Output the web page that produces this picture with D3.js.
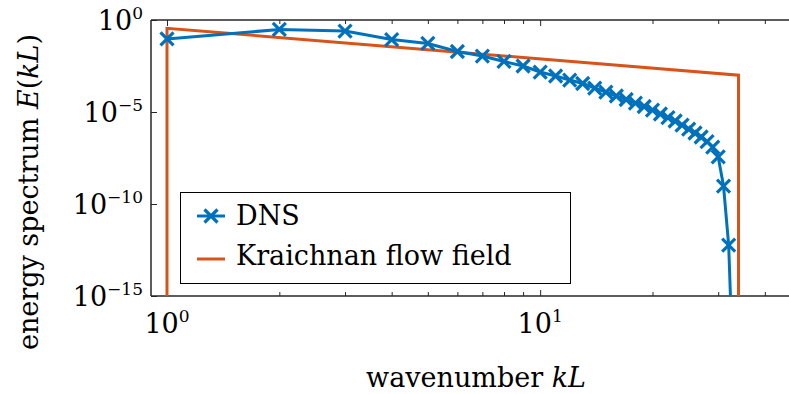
<!DOCTYPE html>
<html>
<head>
<meta charset="utf-8">
<script src="https://cdn.jsdelivr.net/npm/d3@7"></script>
<style>
  body { margin: 0; background: #fff; }
  text { font-family: "DejaVu Serif", "Liberation Serif", serif; fill: #000; }
</style>
</head>
<body>
<svg id="chart"></svg>
<script>
// DNS spectrum, integer wavenumbers 1..33 (last one drops far below the axis)
const dnsK = [1, 2, 3, 4, 5, 6, 7, 8, 9, 10, 11, 12, 13, 14, 15, 16, 17, 18, 19, 20,
              21, 22, 23, 24, 25, 26, 27, 28, 29, 30, 31, 32, 33];
const dnsE = [0.093, 0.305, 0.252, 0.087, 0.053, 0.0194, 0.0110, 0.00556, 0.00316, 0.00149,
              9.05e-4, 5.48e-4, 3.54e-4, 2.01e-4, 1.22e-4, 7.41e-5, 4.78e-5, 3.08e-5, 1.99e-5, 1.28e-5,
              7.78e-6, 5.02e-6, 3.24e-6, 1.96e-6, 1.19e-6, 7.22e-7, 4.38e-7, 2.49e-7, 1.25e-7, 3.6e-8,
              9.5e-10, 5.9e-13, 1e-20];

// Kraichnan flow field spectrum (band limited power law)
const kraichnanK = [1, 1, 34, 34];
const kraichnanE = [1e-20, 0.355, 1.0e-3, 1e-20];

const xTickValues = [1, 10];
const xTickExps = ["0", "1"];
const yTickValues = [1e-15, 1e-10, 1e-5, 1];
const yTickExps = ["\u221215", "\u221210", "\u22125", "0"];
const legendLabels = ["DNS", "Kraichnan flow field"];

const width = 789, height = 394;
const plot = {left: 151, top: 20, bottom: 296, right: 801};
const blue = "#0072BD", orange = "#D95319", axisColor = "#262626";

const svg = d3.select("#chart")
  .attr("width", width)
  .attr("height", height);

const x = d3.scaleLog().domain([0.906, 50]).range([plot.left, plot.right]);
const y = d3.scaleLog().domain([1e-15, 1]).range([plot.bottom, plot.top]);

svg.append("clipPath").attr("id", "plotclip")
  .append("rect")
  .attr("x", plot.left).attr("y", plot.top)
  .attr("width", plot.right - plot.left).attr("height", plot.bottom - plot.top);

// minor + major ticks along x (bottom and top, pointing inward)
const minorX = x.ticks().filter(d => !xTickValues.includes(d));
svg.append("g")
  .attr("transform", `translate(0,${plot.bottom})`)
  .call(d3.axisBottom(x).tickValues(minorX).tickSizeInner(-4).tickSizeOuter(0).tickFormat(""))
  .call(g => g.select(".domain").remove());
svg.append("g")
  .attr("transform", `translate(0,${plot.bottom})`)
  .call(d3.axisBottom(x).tickValues(xTickValues).tickSizeInner(-6).tickSizeOuter(0).tickFormat(""))
  .call(g => g.select(".domain").remove());
svg.append("g")
  .attr("transform", `translate(0,${plot.top})`)
  .call(d3.axisTop(x).tickValues(minorX).tickSizeInner(-4).tickSizeOuter(0).tickFormat(""))
  .call(g => g.select(".domain").remove());
svg.append("g")
  .attr("transform", `translate(0,${plot.top})`)
  .call(d3.axisTop(x).tickValues(xTickValues).tickSizeInner(-6).tickSizeOuter(0).tickFormat(""))
  .call(g => g.select(".domain").remove());

// y ticks, inward
svg.append("g")
  .attr("transform", `translate(${plot.left},0)`)
  .call(d3.axisLeft(y).tickValues(yTickValues).tickSizeInner(-6).tickSizeOuter(0).tickFormat(""))
  .call(g => g.select(".domain").remove());

svg.selectAll(".tick line").attr("stroke", axisColor).attr("stroke-width", 1);

// box lines
svg.append("line")
  .attr("x1", plot.left).attr("x2", plot.right)
  .attr("y1", plot.bottom).attr("y2", plot.bottom)
  .attr("stroke", axisColor).attr("stroke-width", 1.5);
svg.append("line")
  .attr("x1", plot.left).attr("x2", plot.right)
  .attr("y1", plot.top).attr("y2", plot.top)
  .attr("stroke", axisColor).attr("stroke-width", 1.5);
svg.append("line")
  .attr("x1", plot.left).attr("x2", plot.left)
  .attr("y1", plot.top).attr("y2", plot.bottom)
  .attr("stroke", axisColor).attr("stroke-width", 1.5);

// tick labels
const xLab = svg.append("g").selectAll("text")
  .data(xTickValues)
  .join("text")
  .attr("x", d => x(d))
  .attr("y", 333)
  .attr("text-anchor", "middle")
  .style("font-size", "27px");
xLab.append("tspan").text("10");
xLab.append("tspan").attr("dy", -11).style("font-size", "17px").text((d, i) => xTickExps[i]);

const yLab = svg.append("g").selectAll("text")
  .data(yTickValues)
  .join("text")
  .attr("x", 143)
  .attr("y", d => y(d) + 10)
  .attr("text-anchor", "end")
  .style("font-size", "27px");
yLab.append("tspan").text("10");
yLab.append("tspan").attr("dy", -11).style("font-size", "17px").text((d, i) => yTickExps[i]);

// data
const data = svg.append("g").attr("clip-path", "url(#plotclip)");
const kraichnan = kraichnanK.map((k, i) => [k, kraichnanE[i]]);
const dns = dnsK.map((k, i) => [k, dnsE[i]]);
const line = d3.line().x(d => x(d[0])).y(d => y(d[1]));

data.append("path")
  .datum(kraichnan)
  .attr("d", line)
  .attr("fill", "none")
  .attr("stroke", orange)
  .attr("stroke-width", 3);

data.append("path")
  .datum(dns)
  .attr("d", line)
  .attr("fill", "none")
  .attr("stroke", blue)
  .attr("stroke-width", 3);

const cross = "M-6.5,-6.5L6.5,6.5M-6.5,6.5L6.5,-6.5";
data.selectAll(".mk")
  .data(dns)
  .join("path")
  .attr("class", "mk")
  .attr("transform", d => `translate(${x(d[0])},${y(d[1])})`)
  .attr("d", cross)
  .attr("stroke", blue)
  .attr("stroke-width", 3.2);

// legend
const lg = svg.append("g");
lg.append("rect")
  .attr("x", 180.5).attr("y", 192.5)
  .attr("width", 390).attr("height", 91)
  .attr("fill", "#fff")
  .attr("stroke", "#000").attr("stroke-width", 1);
lg.append("line")
  .attr("x1", 197).attr("x2", 225).attr("y1", 216).attr("y2", 216)
  .attr("stroke", blue).attr("stroke-width", 3);
lg.append("path")
  .attr("transform", "translate(211,216)")
  .attr("d", cross)
  .attr("stroke", blue).attr("stroke-width", 3.2);
lg.append("line")
  .attr("x1", 197).attr("x2", 225).attr("y1", 259).attr("y2", 259)
  .attr("stroke", orange).attr("stroke-width", 3);
lg.selectAll("text.lab")
  .data(legendLabels)
  .join("text")
  .attr("class", "lab")
  .attr("x", 236)
  .attr("y", (d, i) => 225 + i * 40)
  .style("font-size", "27px")
  .text(d => d);

// axis labels
const xl = svg.append("text")
  .attr("x", 476)
  .attr("y", 387)
  .attr("text-anchor", "middle")
  .style("font-size", "27px");
xl.append("tspan").text("wavenumber ");
xl.append("tspan").style("font-style", "italic").text("kL");

const yl = svg.append("text")
  .attr("transform", "translate(38,192)rotate(-90)")
  .attr("text-anchor", "middle")
  .style("font-size", "27px");
yl.append("tspan").text("energy spectrum ");
yl.append("tspan").style("font-style", "italic").text("E");
yl.append("tspan").text("(");
yl.append("tspan").style("font-style", "italic").text("kL");
yl.append("tspan").text(")");
</script>
</body>
</html>
